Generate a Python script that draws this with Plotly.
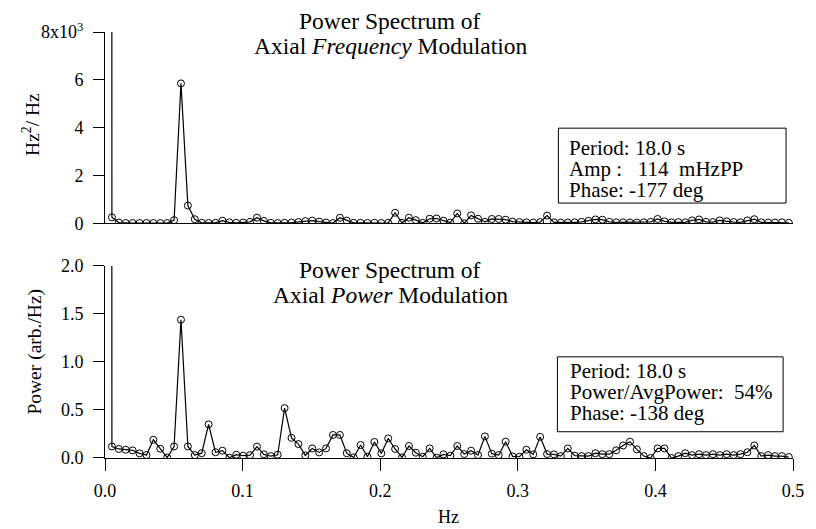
import numpy as np
import plotly.graph_objects as go
from plotly.subplots import make_subplots

# Frequency grid of the spectra (bin 0 is the DC term)
df_hz = 0.00502
n_bins = 100
freq = np.arange(n_bins) * df_hz

# Power spectrum of the axial frequency modulation (Hz^2/Hz), bins 1..99
freq_dc = 1.0e6
freq_power = [
    250, 30, 10, 10, 10, 10, 10, 10, 10, 130,
    5850, 740, 170, 20, 10, 20, 110, 40, 20, 30,
    60, 235, 100, 20, 10, 20, 30, 50, 90, 110,
    70, 30, 10, 230, 110, 20, 20, 10, 20, 10,
    20, 440, 20, 235, 130, 20, 190, 200, 110, 30,
    410, 0, 330, 190, 60, 180, 180, 150, 70, 50,
    40, 30, 50, 320, 40, 30, 30, 40, 60, 100,
    160, 150, 60, 40, 40, 30, 30, 40, 60, 180,
    80, 40, 50, 40, 120, 160, 60, 50, 120, 80,
    50, 40, 120, 170, 40, 30, 30, 40, 20,
]

# Power spectrum of the axial power modulation (arb./Hz), bins 1..99
pow_dc = 200.0
pow_power = [
    0.12, 0.094, 0.086, 0.079, 0.048, 0.031, 0.19, 0.097, 0.005, 0.12,
    1.44, 0.12, 0.03, 0.05, 0.35, 0.06, 0.076, 0.003, 0.034, 0.024,
    0.03, 0.118, 0.038, 0.02, 0.034, 0.52, 0.21, 0.145, 0.027, 0.1,
    0.058, 0.1, 0.24, 0.24, 0.05, 0.006, 0.135, 0.013, 0.167, 0.048,
    0.204, 0.094, 0.006, 0.125, 0.055, 0.013, 0.1, 0.003, 0.038, 0.024,
    0.125, 0.041, 0.076, 0.031, 0.225, 0.045, 0.031, 0.17, 0.017, 0.013,
    0.086, 0.038, 0.22, 0.041, 0.038, 0.02, 0.1, 0.024, 0.02, 0.02,
    0.05, 0.04, 0.04, 0.08, 0.13, 0.17, 0.09, 0.02, 0.0, 0.1,
    0.1, 0.0, 0.02, 0.05, 0.03, 0.04, 0.03, 0.04, 0.03, 0.04,
    0.03, 0.04, 0.06, 0.13, 0.02, 0.03, 0.02, 0.02, 0.01,
]

top_ticks = [0, 2000, 4000, 6000, 8000]
top_ticktext = ["0", "2", "4", "6", "8x10<sup>3</sup>"]
bot_ticks = [0.0, 0.5, 1.0, 1.5, 2.0]
bot_ticktext = ["0.0", "0.5", "1.0", "1.5", "2.0"]
x_ticks = [0.0, 0.1, 0.2, 0.3, 0.4, 0.5]
x_ticktext = ["0.0", "0.1", "0.2", "0.3", "0.4", "0.5"]

FONT = "Liberation Serif"
INK = "black"

fig = make_subplots(rows=2, cols=1, shared_xaxes=False, vertical_spacing=0.1)

marker = dict(symbol="circle-open", size=7, color=INK, line=dict(width=1, color=INK))
line = dict(color=INK, width=1.2)

fig.add_trace(go.Scatter(x=freq, y=[freq_dc] + freq_power, mode="lines+markers",
                         marker=marker, line=line, showlegend=False), row=1, col=1)
fig.add_trace(go.Scatter(x=freq, y=[pow_dc] + pow_power, mode="lines+markers",
                         marker=marker, line=line, showlegend=False), row=2, col=1)

axis_common = dict(showgrid=False, zeroline=False, showline=True, linecolor=INK,
                   linewidth=1, tickcolor=INK, tickwidth=1,
                   tickfont=dict(family=FONT, size=18, color=INK))

fig.update_xaxes(range=[0, 0.5], domain=[0, 1], **axis_common)
fig.update_xaxes(row=1, col=1, ticks="", showticklabels=False)
fig.update_xaxes(row=2, col=1, ticks="outside", ticklen=12, tickvals=x_ticks,
                 ticktext=x_ticktext, ticklabelstandoff=4)

fig.update_yaxes(ticks="outside", ticklen=11, ticklabelstandoff=6, **axis_common)
fig.update_yaxes(row=1, col=1, range=[0, 8000], domain=[0.551, 1.0],
                 tickvals=top_ticks, ticktext=top_ticktext)
fig.update_yaxes(row=2, col=1, range=[0, 2.0], domain=[0.0, 0.4508],
                 tickvals=bot_ticks, ticktext=bot_ticktext)

# pixel -> paper helpers for the 816x529 canvas (plot area x 105..800, y 31.7..458.3)
def px(x):
    return (x - 105.0) / 695.0


def py(y):
    return (458.3 - y) / 426.6


title_font = dict(family=FONT, size=23.5, color=INK)
box_font = dict(family=FONT, size=21, color=INK)
label_font = dict(family=FONT, size=19.5, color=INK)
nb = "\u00a0"

annotations = []

# panel titles, one annotation per line
for text, y in [("Power Spectrum of", 21), ("Axial <i>Frequency</i> Modulation", 46),
                ("Power Spectrum of", 270), ("Axial <i>Power</i> Modulation", 295)]:
    annotations.append(dict(text=text, x=px(393), y=py(y), xref="paper", yref="paper",
                            xanchor="center", yanchor="middle", showarrow=False,
                            font=title_font))

# info boxes: frame as a shape, text lines as annotations
boxes = [
    dict(frame=(563, 128, 793, 203), text_x=572, line_y=(148, 169, 190),
         lines=["Period: 18.0 s", f"Amp :{nb*3}114{nb*2}mHzPP", "Phase: -177 deg"]),
    dict(frame=(562, 357, 790, 432), text_x=573, line_y=(371, 392, 413),
         lines=["Period: 18.0 s", f"Power/AvgPower:{nb*2}54%", "Phase: -138 deg"]),
]
shapes = []
for b in boxes:
    x0, y0, x1, y1 = b["frame"]
    shapes.append(dict(type="rect", xref="paper", yref="paper",
                       x0=px(x0), x1=px(x1), y0=py(y1), y1=py(y0),
                       line=dict(color=INK, width=1), fillcolor="white", layer="above"))
    for text, y in zip(b["lines"], b["line_y"]):
        annotations.append(dict(text=text, x=px(b["text_x"]), y=py(y), xref="paper",
                                yref="paper", xanchor="left", yanchor="middle",
                                showarrow=False, font=box_font))

# axis titles
annotations += [
    dict(text="Hz<sup>2</sup>/ Hz", x=px(30), y=py(124), xref="paper", yref="paper",
         xanchor="center", yanchor="middle", textangle=-90, showarrow=False,
         font=label_font),
    dict(text="Power (arb./Hz)", x=px(34), y=py(352), xref="paper", yref="paper",
         xanchor="center", yanchor="middle", textangle=-90, showarrow=False,
         font=label_font),
    dict(text="Hz", x=px(452), y=py(517), xref="paper", yref="paper",
         xanchor="center", yanchor="middle", showarrow=False,
         font=dict(family=FONT, size=18, color=INK)),
]

fig.update_layout(
    width=816, height=529,
    margin=dict(l=105, r=16, t=32, b=71),
    paper_bgcolor="white", plot_bgcolor="white",
    annotations=annotations,
    shapes=shapes,
    font=dict(family=FONT, color=INK),
)

fig.write_html("out.html")
